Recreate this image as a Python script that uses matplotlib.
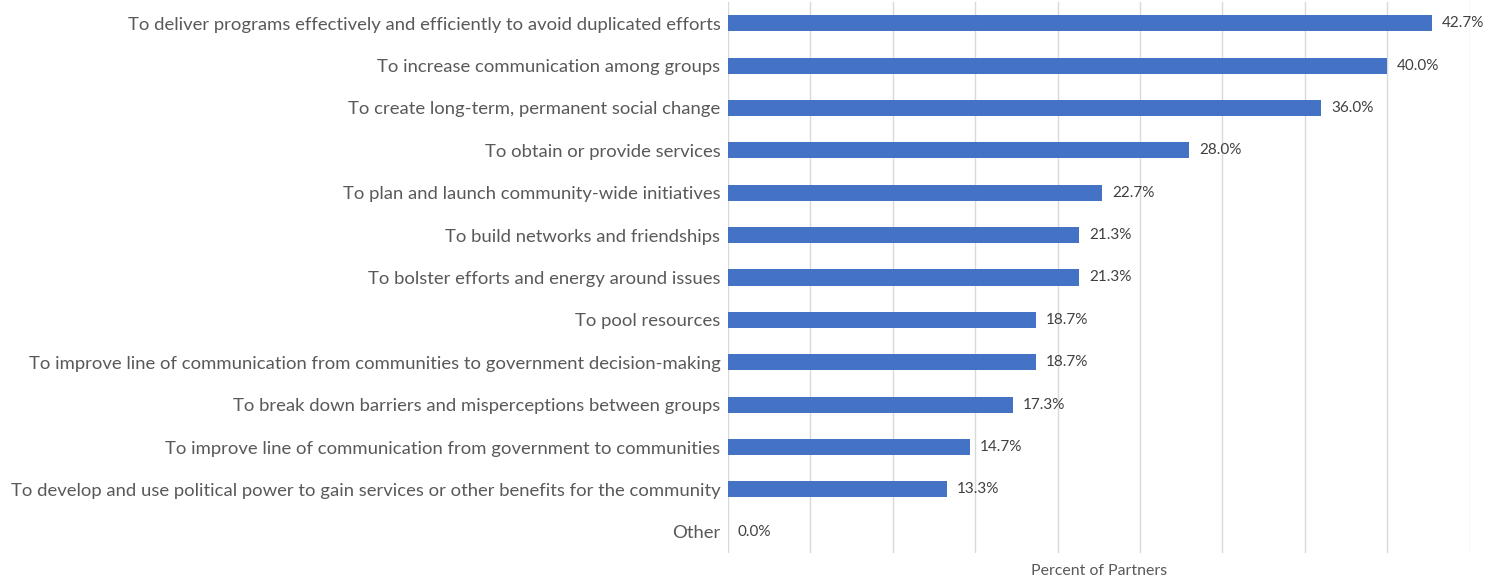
import matplotlib
matplotlib.use("Agg")
import matplotlib.pyplot as plt
import numpy as np

plt.rcParams['font.family'] = ['Lato', 'DejaVu Sans']

categories = [
    "To deliver programs effectively and efficiently to avoid duplicated efforts",
    "To increase communication among groups",
    "To create long-term, permanent social change",
    "To obtain or provide services",
    "To plan and launch community-wide initiatives",
    "To build networks and friendships",
    "To bolster efforts and energy around issues",
    "To pool resources",
    "To improve line of communication from communities to government decision-making",
    "To break down barriers and misperceptions between groups",
    "To improve line of communication from government to communities",
    "To develop and use political power to gain services or other benefits for the community",
    "Other",
]
values = [42.7, 40.0, 36.0, 28.0, 22.7, 21.3, 21.3, 18.7, 18.7, 17.3, 14.7, 13.3, 0.0]

fig = plt.figure(figsize=(14.99, 5.83), dpi=100)
ax = fig.add_axes([0.4857, 0.0515, 0.4947, 0.9451])

y = np.arange(len(categories))
ax.barh(y, values, height=0.38, color='#4472C4', zorder=3)
for yi, v in zip(y, values):
    ax.text(v + 0.6, yi, f"{v:.1f}%", va='center', ha='left', fontsize=11, color='#404040')

ax.set_yticks(y)
ax.set_yticklabels(categories, fontsize=13.3, color='#595959')
ax.set_ylim(len(categories) - 0.5, -0.5)
ax.set_xlim(0, 45)
ax.set_xticks(np.arange(0, 46, 5))
ax.tick_params(axis='x', length=0, labelbottom=False)
ax.tick_params(axis='y', length=0, pad=5.5)
ax.grid(axis='x', color='#D9D9D9', linewidth=1, zorder=0)
for s in ax.spines.values():
    s.set_visible(False)
ax.set_xlabel("Percent of Partners", fontsize=11.4, color='#595959', labelpad=8)

fig.savefig("out.png", dpi=100)
